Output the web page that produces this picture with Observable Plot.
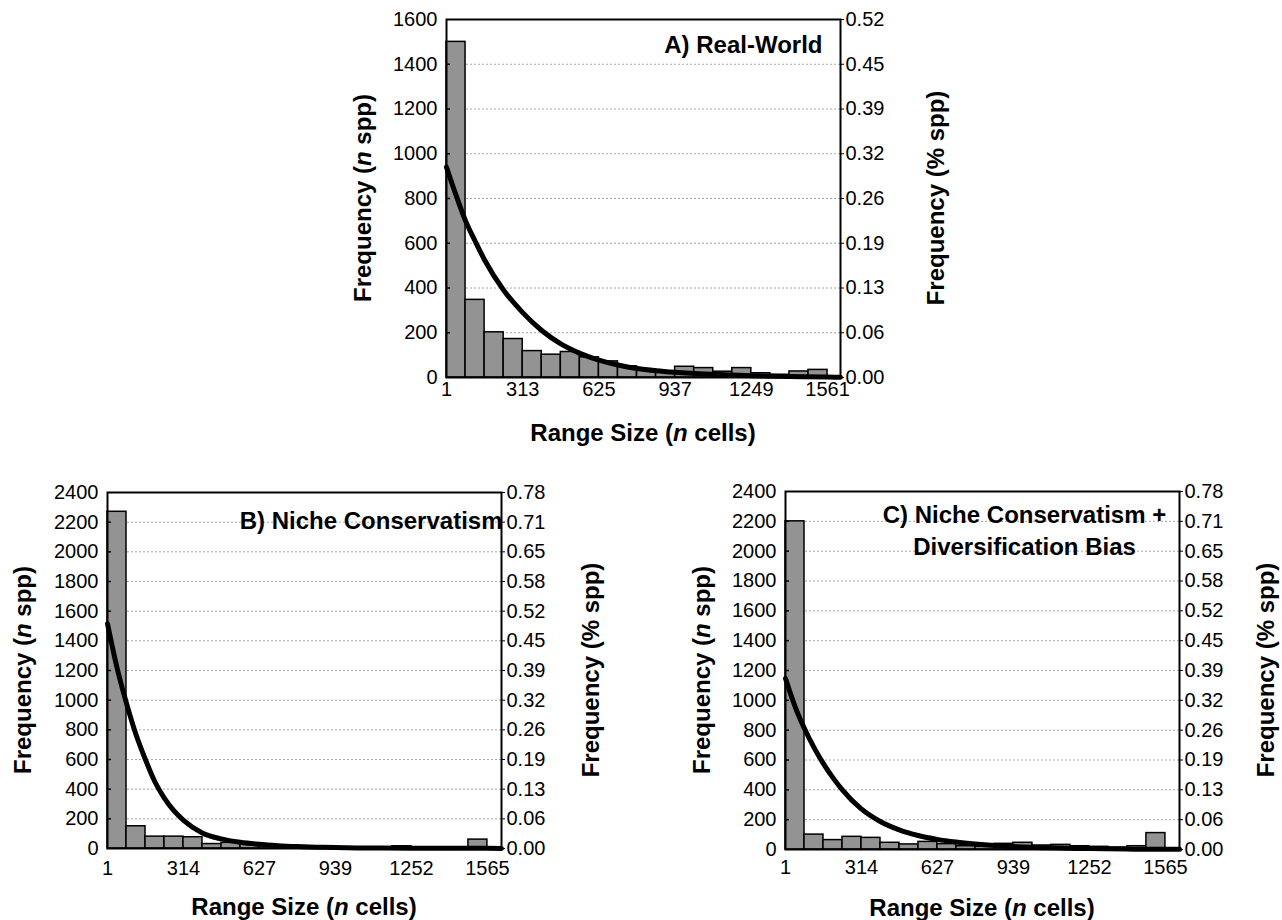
<!DOCTYPE html>
<html><head><meta charset="utf-8">
<script src="https://cdn.jsdelivr.net/npm/d3@7"></script>
<script src="https://cdn.jsdelivr.net/npm/@observablehq/plot@0.6"></script>
<style>
html,body{margin:0;padding:0;background:#fff;}
body{width:1282px;height:920px;position:relative;overflow:hidden;font-family:"Liberation Sans",Arial,sans-serif;}
.panel{position:absolute;}
</style></head><body>
<div id="pA" class="panel" style="left:330px;top:0px"></div>
<div id="pB" class="panel" style="left:0px;top:440px"></div>
<div id="pC" class="panel" style="left:660px;top:440px"></div>
<script>
// ---------- data ----------
const xTicksA = [1, 313, 625, 937, 1249, 1561];
const xTicksBC = [1, 314, 627, 939, 1252, 1565];
const yTicksA = [0, 200, 400, 600, 800, 1000, 1200, 1400, 1600];
const yTicksBC = [0, 200, 400, 600, 800, 1000, 1200, 1400, 1600, 1800, 2000, 2200, 2400];
const pctA = ["0.00","0.06","0.13","0.19","0.26","0.32","0.39","0.45","0.52"];
const pctBC = ["0.00","0.06","0.13","0.19","0.26","0.32","0.39","0.45","0.52","0.58","0.65","0.71","0.78"];

const countsA = [1500, 347, 202, 172, 118, 102, 114, 90, 72, 50, 36, 24, 48, 42, 26, 42, 19, 12, 27, 34];
const countsB = [2270, 150, 80, 80, 76, 30, 38, 28, 20, 15, 10, 8, 8, 5, 5, 15, 5, 3, 5, 60];
const countsC = [2200, 100, 63, 85, 78, 45, 34, 51, 36, 22, 18, 38, 45, 27, 31, 22, 18, 13, 22, 110];

const fitXA = [1, 40, 79, 118, 157, 235, 313, 391, 469, 547, 625, 703, 781, 859, 937, 1093, 1249, 1405, 1561, 1614];
const fitA  = [940, 815, 700, 610, 525, 390, 290, 210, 150, 108, 78, 56, 40, 30, 23, 14, 8, 4, 2, 1];
const fitXB = [1, 40, 79, 118, 157, 196, 235, 274, 313, 391, 469, 547, 625, 703, 781, 859, 937, 1093, 1249, 1405, 1565, 1623];
const fitB  = [1515, 1220, 980, 770, 600, 450, 340, 255, 192, 105, 65, 42, 28, 19, 13, 9, 6, 3, 2, 1, 1, 0];
const fitXC = [1, 40, 79, 118, 157, 196, 235, 313, 391, 469, 547, 625, 703, 781, 859, 937, 1093, 1249, 1405, 1565, 1623];
const fitC  = [1146, 960, 811, 685, 576, 482, 400, 272, 188, 132, 94, 68, 50, 37, 27, 20, 11, 6, 3, 1, 1];

const titleA = "A) Real-World";
const titleB = "B) Niche Conservatism";
const titleC = "C) Niche Conservatism +\nDiversification Bias";
const yLabelLeft = ["Frequency (", "n", " spp)"];
const yLabelRight = ["Frequency (% spp)"];
const xLabel = ["Range Size (", "n", " cells)"];

// ---------- drawing ----------
function panel(o) {
  const w = (o.xTicks[o.xTicks.length - 1] - o.xTicks[0]) / o.counts.length;
  const bins = o.counts.map((c, i) => ({x1: o.xTicks[0] + i * w, x2: o.xTicks[0] + (i + 1) * w, n: c}));
  const fit = o.fitX.map((x, i) => ({x, y: o.fit[i]}));
  const pctMap = new Map(o.yTicks.map((t, i) => [t, o.pct[i]]));
  const fw = o.width - o.mL - o.mR;
  const fh = o.height - o.mT - o.mB;
  const svg = Plot.plot({
    width: o.width, height: o.height,
    marginLeft: o.mL, marginRight: o.mR, marginTop: o.mT, marginBottom: o.mB,
    style: {fontFamily: '"Liberation Sans", Arial, sans-serif', fontSize: "20px", color: "#000", background: "transparent", overflow: "visible"},
    x: {domain: [o.xTicks[0], o.xMax]},
    y: {domain: [o.yTicks[0], o.yTicks[o.yTicks.length - 1]]},
    marks: [
      Plot.ruleY(o.yTicks.slice(1, -1), {y: d => d, stroke: "#a8a8a8", strokeWidth: 1, strokeDasharray: "2,2"}),
      Plot.rectY(bins, {x1: "x1", x2: "x2", y: "n", fill: "#939393", stroke: "#000", strokeWidth: 1.5}),
      Plot.line(fit, {x: "x", y: "y", stroke: "#000", strokeWidth: 5, curve: "monotone-x", strokeLinecap: "round"}),
      Plot.frame({stroke: "#000", strokeWidth: 2}),
      Plot.axisX(o.xTicks, {anchor: "bottom", tickSize: 0, tickPadding: o.xPad, tickFormat: d => String(d), label: null}),
      Plot.axisY(o.yTicks, {anchor: "left", tickSize: 0, tickPadding: 9, tickFormat: d => String(d), label: null}),
      Plot.tickY(o.yTicks.slice(1, -1), {y: d => d, insetRight: fw - 4, stroke: "#000", strokeWidth: 1.5}),
      Plot.axisY(o.yTicks, {anchor: "right", tickSize: 3, tickPadding: 2, tickFormat: d => pctMap.get(d), label: null}),
      Plot.text([o.title], {text: d => d, frameAnchor: "top-right", textAnchor: o.tAnchor, lineAnchor: "middle",
        dx: o.tdx, dy: o.tdy, fontSize: 24, fontWeight: "bold", lineHeight: 1.33, fill: "#000"})
    ]
  });
  const s = d3.select(svg);
  function label(x, y, rot, parts) {
    const t = s.append("text")
      .attr("transform", `translate(${x},${y}) rotate(${rot})`)
      .attr("text-anchor", "middle").attr("dominant-baseline", "central")
      .attr("font-size", 24).attr("font-weight", "bold").attr("fill", "#000");
    parts.forEach((p, i) => t.append("tspan").text(p).attr("font-style", i === 1 ? "italic" : "normal"));
  }
  label(o.mL - o.ly, o.mT + fh / 2, -90, yLabelLeft);
  label(o.mL + fw + o.ry, o.mT + fh / 2, -90, yLabelRight);
  label(o.mL + fw / 2, o.mT + fh + o.xy, 0, xLabel);
  document.getElementById(o.el).appendChild(svg);
}

panel({el: "pA", counts: countsA, xTicks: xTicksA, xMax: 1614, yTicks: yTicksA, pct: pctA,
  fitX: fitXA, fit: fitA, title: titleA, tAnchor: "end", tdx: -18, tdy: 23,
  width: 620, height: 450, mL: 116, mR: 110, mT: 19, mB: 73, xPad: 4, ly: 84, ry: 95, xy: 55});
panel({el: "pB", counts: countsB, xTicks: xTicksBC, xMax: 1623, yTicks: yTicksBC, pct: pctBC,
  fitX: fitXB, fit: fitB, title: titleB, tAnchor: "end", tdx: 1, tdy: 26,
  width: 620, height: 480, mL: 107, mR: 119, mT: 52, mB: 72, xPad: 12, ly: 85, ry: 89, xy: 58});
panel({el: "pC", counts: countsC, xTicks: xTicksBC, xMax: 1623, yTicks: yTicksBC, pct: pctBC,
  fitX: fitXC, fit: fitC, title: titleC, tAnchor: "middle", tdx: -155, tdy: 37,
  width: 622, height: 480, mL: 125, mR: 103, mT: 51, mB: 71, xPad: 10, ly: 84, ry: 86, xy: 58});
</script>
</body></html>
